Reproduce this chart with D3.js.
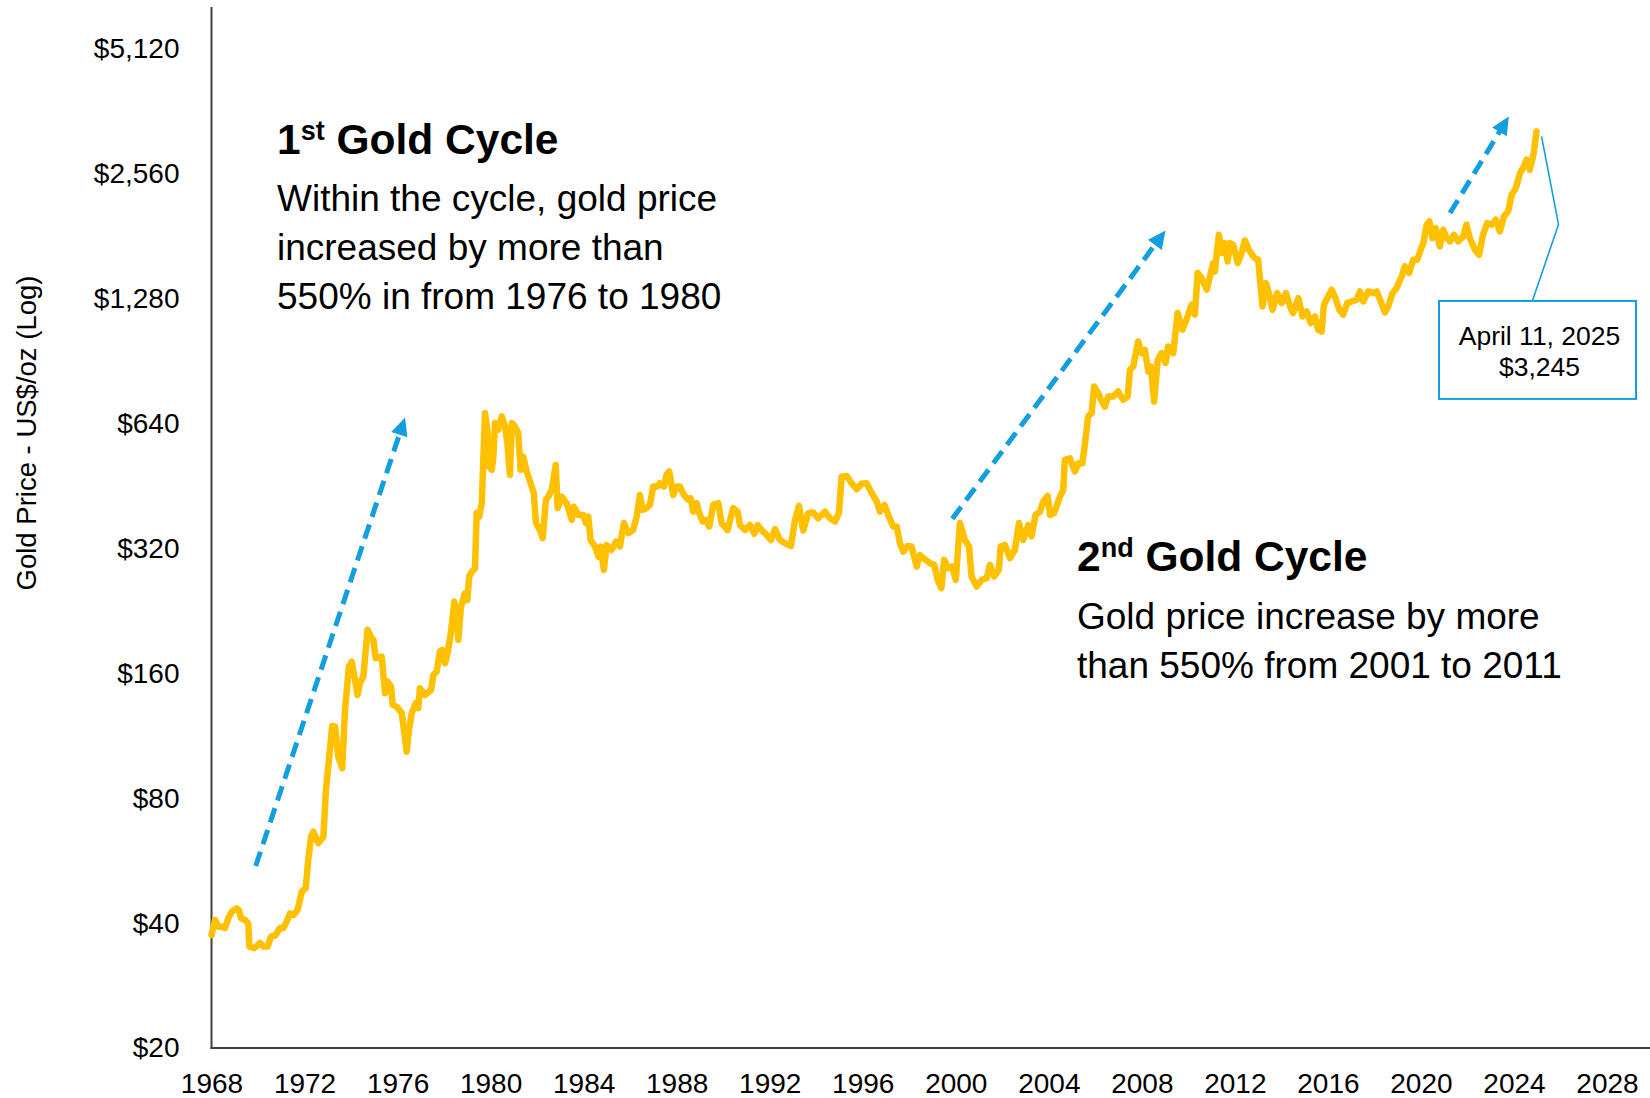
<!DOCTYPE html>
<html><head><meta charset="utf-8"><title>Gold Price Cycles</title>
<script src="https://cdn.jsdelivr.net/npm/d3@7"></script>
<style>
  html, body { margin: 0; padding: 0; background: #fff; }
  svg { display: block; font-family: 'Liberation Sans', Arial, sans-serif; }
</style>
</head>
<body>
<svg id="chart" width="1650" height="1098"></svg>
<script>
// gold price (decimal year, US$/oz)
const priceYears = [
  1968.00, 1968.15, 1968.29, 1968.44, 1968.58, 1968.72, 1968.87, 1969.08, 1969.18, 1969.27,
  1969.44, 1969.58, 1969.63, 1969.84, 1970.09, 1970.23, 1970.41, 1970.56, 1970.76, 1970.94,
  1971.09, 1971.23, 1971.37, 1971.52, 1971.70, 1971.88, 1972.05, 1972.16, 1972.28, 1972.38,
  1972.59, 1972.81, 1972.92, 1973.05, 1973.19, 1973.31, 1973.45, 1973.62, 1973.74, 1973.91,
  1974.03, 1974.17, 1974.28, 1974.38, 1974.53, 1974.71, 1974.89, 1974.96, 1975.06, 1975.32,
  1975.46, 1975.57, 1975.72, 1975.79, 1975.96, 1976.18, 1976.29, 1976.39, 1976.49, 1976.61,
  1976.78, 1976.89, 1976.96, 1977.18, 1977.44, 1977.54, 1977.68, 1977.82, 1977.92, 1978.04,
  1978.15, 1978.30, 1978.44, 1978.54, 1978.61, 1978.73, 1978.87, 1978.90, 1979.00, 1979.08,
  1979.19, 1979.33, 1979.40, 1979.51, 1979.62, 1979.76, 1979.86, 1979.94, 1980.05, 1980.12,
  1980.19, 1980.33, 1980.48, 1980.62, 1980.72, 1980.83, 1980.91, 1981.05, 1981.19, 1981.29,
  1981.40, 1981.55, 1981.72, 1981.86, 1981.95, 1982.12, 1982.24, 1982.38, 1982.48, 1982.63,
  1982.80, 1982.88, 1983.06, 1983.27, 1983.49, 1983.58, 1983.77, 1983.98, 1984.10, 1984.20,
  1984.30, 1984.49, 1984.63, 1984.73, 1984.87, 1984.99, 1985.20, 1985.39, 1985.56, 1985.73,
  1985.92, 1986.13, 1986.28, 1986.42, 1986.54, 1986.71, 1986.85, 1986.99, 1987.17, 1987.28,
  1987.45, 1987.57, 1987.68, 1987.85, 1987.99, 1988.14, 1988.31, 1988.50, 1988.60, 1988.71,
  1988.86, 1988.97, 1989.12, 1989.26, 1989.40, 1989.57, 1989.79, 1989.93, 1990.19, 1990.43,
  1990.62, 1990.72, 1990.94, 1991.15, 1991.34, 1991.48, 1991.65, 1991.87, 1992.05, 1992.23,
  1992.44, 1992.66, 1992.91, 1993.09, 1993.26, 1993.44, 1993.66, 1993.87, 1994.09, 1994.38,
  1994.59, 1994.81, 1994.98, 1995.09, 1995.31, 1995.52, 1995.74, 1995.95, 1996.17, 1996.35,
  1996.60, 1996.74, 1996.93, 1997.10, 1997.31, 1997.46, 1997.60, 1997.74, 1997.93, 1998.10,
  1998.32, 1998.46, 1998.67, 1998.89, 1999.07, 1999.22, 1999.38, 1999.50, 1999.68, 1999.85,
  2000.00, 2000.18, 2000.39, 2000.57, 2000.68, 2000.90, 2001.11, 2001.33, 2001.47, 2001.65,
  2001.85, 2001.93, 2002.11, 2002.33, 2002.54, 2002.72, 2002.90, 2003.12, 2003.26, 2003.43,
  2003.62, 2003.76, 2003.95, 2004.05, 2004.23, 2004.48, 2004.62, 2004.69, 2004.91, 2005.12,
  2005.27, 2005.44, 2005.55, 2005.69, 2005.84, 2005.95, 2006.12, 2006.24, 2006.41, 2006.55,
  2006.77, 2006.98, 2007.20, 2007.39, 2007.49, 2007.63, 2007.84, 2007.99, 2008.13, 2008.28,
  2008.39, 2008.53, 2008.68, 2008.85, 2009.02, 2009.13, 2009.35, 2009.54, 2009.74, 2009.92,
  2010.14, 2010.28, 2010.40, 2010.57, 2010.79, 2010.93, 2011.07, 2011.14, 2011.31, 2011.46,
  2011.57, 2011.69, 2011.79, 2011.93, 2012.12, 2012.29, 2012.43, 2012.60, 2012.79, 2012.86,
  2013.00, 2013.19, 2013.34, 2013.48, 2013.62, 2013.82, 2014.01, 2014.20, 2014.37, 2014.51,
  2014.73, 2014.91, 2015.09, 2015.26, 2015.44, 2015.58, 2015.73, 2015.83, 2016.01, 2016.16,
  2016.30, 2016.49, 2016.66, 2016.83, 2017.02, 2017.24, 2017.38, 2017.52, 2017.73, 2017.95,
  2018.10, 2018.27, 2018.45, 2018.59, 2018.78, 2018.95, 2019.17, 2019.31, 2019.49, 2019.67,
  2019.84, 2019.99, 2020.10, 2020.25, 2020.36, 2020.50, 2020.64, 2020.81, 2020.96, 2021.10,
  2021.25, 2021.42, 2021.60, 2021.82, 2021.96, 2022.10, 2022.32, 2022.50, 2022.67, 2022.85,
  2023.04, 2023.22, 2023.39, 2023.57, 2023.75, 2023.90, 2024.08, 2024.26, 2024.43, 2024.54,
  2024.68, 2024.85, 2024.97
];
const priceValues = [
  37.4, 40.7, 39.2, 39.2, 38.9, 41.1, 42.6, 43.4, 43.0, 41.1,
  40.7, 39.9, 35.1, 34.8, 35.8, 35.1, 35.1, 37.1, 37.4, 38.9,
  38.9, 40.3, 42.2, 41.8, 43.0, 47.6, 48.5, 56.8, 64.6, 66.4,
  62.3, 64.6, 83.7, 98.9, 119.4, 119.0, 100.7, 94.4, 130.5, 166,
  170.6, 154.2, 141.8, 151.4, 157, 203.5, 194.3, 192.5, 173.9, 175.4,
  143.2, 152.7, 148.6, 134.2, 132.9, 128.2, 114.7, 103.5, 116.8, 128.2,
  135.5, 131.8, 147.2, 141.8, 145.8, 158.5, 161.5, 180.4, 182, 169.1,
  178.8, 201.6, 238, 223.2, 192.5, 231.5, 247, 249, 240, 273.6,
  281, 286, 389, 381.6, 411, 677, 617, 503.6, 494.6, 532,
  641, 617, 665, 629, 573, 481, 641, 629, 606, 494.6,
  532, 490, 459, 434, 368, 354, 338.6, 419, 426, 442.6,
  508, 400, 426, 411, 374.6, 403, 385, 385, 368, 381.6,
  335, 323, 305.6, 323, 283.8, 326, 317, 332, 323, 368,
  348, 354, 381.6, 430, 396, 400, 407, 450.6, 450.6, 459,
  450.6, 481, 490, 430, 450.6, 450.6, 430, 419, 422.6, 392,
  411, 389, 371, 374.6, 361, 407, 411, 368, 354, 400,
  392, 364, 354, 364, 347, 364, 354, 344.6, 335, 355.8,
  335, 329, 324, 374.6, 405, 353, 389, 390, 378, 392,
  378, 371, 390, 476, 478, 459, 444, 457.6, 459, 438,
  415, 392, 407, 385, 361, 361, 329, 314, 324, 323,
  289, 308, 301, 294.6, 291.8, 268.6, 256.5, 300, 286.6, 289,
  268.6, 368, 335, 323, 273.6, 258.7, 268.6, 271, 291.8, 273.6,
  283.8, 323, 326, 303, 317, 368, 335, 364, 341.6, 385,
  392, 415, 428, 385, 389, 426, 442.6, 522.6, 527, 490,
  513, 513, 568, 665, 677, 785, 757, 729, 702, 743,
  743, 764, 729, 743, 861, 877, 1008, 945, 962, 853,
  877, 722, 910, 945, 894, 980, 945, 1180, 1076, 1137,
  1236, 1169, 1473, 1433, 1343, 1445, 1557, 1486, 1822, 1646,
  1740, 1571, 1740, 1723, 1557, 1646, 1766, 1676, 1616, 1601,
  1586, 1224, 1393, 1306, 1202, 1318, 1247, 1318, 1224, 1180,
  1282, 1158, 1190, 1116, 1158, 1076, 1065, 1236, 1293, 1343,
  1293, 1202, 1169, 1247, 1258, 1270, 1330, 1258, 1330, 1318,
  1330, 1258, 1184, 1224, 1318, 1355, 1445, 1528, 1473, 1586,
  1586, 1676, 1740, 1926, 1962, 1789, 1891, 1708, 1873, 1789,
  1756, 1822, 1756, 1805, 1926, 1789, 1676, 1630, 1822, 1944,
  1926, 1980, 1856, 2017, 2075, 2274, 2360, 2565, 2662, 2763,
  2614, 2867, 3232
];

const yTicks = [20, 40, 80, 160, 320, 640, 1280, 2560, 5120];
const xTicks = [1968, 1972, 1976, 1980, 1984, 1988, 1992, 1996, 2000, 2004, 2008, 2012, 2016, 2020, 2024, 2028];

// dashed trend arrows: start / end in (year, price)
const arrowFromYear  = [1969.90, 1999.85, 2021.25];
const arrowFromPrice = [54.9, 376.8, 2055];
const arrowToYear    = [1976.32, 2009.02, 2023.78];
const arrowToPrice   = [660.7, 1866, 3512];

const lastLabel = ["April 11, 2025", "$3,245"];

const gold = "#FFC000";
const blue = "#139EDD";

const svg = d3.select("#chart");

const x = d3.scaleLinear().domain([1968, 2028]).range([211.5, 1607]);
const y = d3.scaleLog().base(2).domain([20, 5120]).range([1048, 48.5]);

// axes (labels only, lines drawn below)
const xAxis = svg.append("g")
  .attr("transform", "translate(0,1048)")
  .call(d3.axisBottom(x).tickValues(xTicks).tickFormat(d3.format("d")).tickSize(0).tickPadding(25));
xAxis.select(".domain").remove();
xAxis.selectAll("text").attr("font-size", 28).attr("fill", "#000")
  .attr("font-family", "'Liberation Sans', Arial, sans-serif");

const yAxis = svg.append("g")
  .attr("transform", "translate(211.5,0)")
  .call(d3.axisLeft(y).tickValues(yTicks).tickFormat(d => "$" + d3.format(",")(d)).tickSize(0).tickPadding(32));
yAxis.select(".domain").remove();
yAxis.selectAll("text").attr("font-size", 28).attr("fill", "#000")
  .attr("font-family", "'Liberation Sans', Arial, sans-serif");

svg.append("line")
  .attr("x1", 211.5).attr("x2", 211.5).attr("y1", 7).attr("y2", 1049)
  .attr("stroke", "#404040").attr("stroke-width", 2);
svg.append("line")
  .attr("x1", 210.5).attr("x2", 1650).attr("y1", 1048).attr("y2", 1048)
  .attr("stroke", "#404040").attr("stroke-width", 2);

svg.append("text")
  .attr("transform", "translate(36,433) rotate(-90)")
  .attr("text-anchor", "middle")
  .attr("font-size", 27.5)
  .text("Gold Price - US$/oz (Log)");

// price line
const series = priceYears.map((t, i) => ({ t: t, v: priceValues[i] }));
const line = d3.line().x(d => x(d.t)).y(d => y(d.v));

svg.append("path")
  .datum(series)
  .attr("d", line)
  .attr("fill", "none")
  .attr("stroke", gold)
  .attr("stroke-width", 6.5)
  .attr("stroke-linejoin", "round")
  .attr("stroke-linecap", "round");

// arrows
arrowFromYear.forEach((t0, i) => {
  const x0 = x(t0), y0 = y(arrowFromPrice[i]);
  const x1 = x(arrowToYear[i]), y1 = y(arrowToPrice[i]);
  const len = Math.hypot(x1 - x0, y1 - y0);
  const ux = (x1 - x0) / len, uy = (y1 - y0) / len;
  const head = 18, half = 8.5;
  svg.append("line")
    .attr("x1", x0).attr("y1", y0)
    .attr("x2", x1 - ux * head * 0.9).attr("y2", y1 - uy * head * 0.9)
    .attr("stroke", blue).attr("stroke-width", 5)
    .attr("stroke-dasharray", "15 8");
  const bx = x1 - ux * head, by = y1 - uy * head;
  svg.append("path")
    .attr("d", `M${x1},${y1}L${bx - uy * half},${by + ux * half}L${bx + uy * half},${by - ux * half}Z`)
    .attr("fill", blue);
});

// callout for latest price
const last = series[series.length - 1];
const lx = x(last.t), ly = y(last.v);
svg.append("path")
  .attr("d", `M${lx + 5},${ly + 5}L${lx + 22},${ly + 93}L${lx - 4},${ly + 169}`)
  .attr("fill", "none").attr("stroke", blue).attr("stroke-width", 1.6);
svg.append("rect")
  .attr("x", lx - 97.5).attr("y", ly + 169.5)
  .attr("width", 197).attr("height", 98)
  .attr("fill", "#fff").attr("stroke", blue).attr("stroke-width", 2);
svg.append("text")
  .attr("x", lx + 3).attr("text-anchor", "middle").attr("font-size", 26.5)
  .selectAll("tspan").data(lastLabel).join("tspan")
  .attr("x", lx + 3).attr("y", (d, i) => ly + 213.5 + i * 31.5)
  .text(d => d);

// cycle notes
function note(xp, yp, num, sup, lines, gap) {
  const t = svg.append("text").attr("x", xp).attr("y", yp)
    .attr("font-size", 42.5).attr("font-weight", "bold");
  t.append("tspan").text(num);
  t.append("tspan").attr("font-size", 27).attr("dy", -14).text(sup);
  t.append("tspan").attr("dy", 14).text(" Gold Cycle");
  svg.append("text").attr("font-size", 37)
    .selectAll("tspan").data(lines).join("tspan")
    .attr("x", xp).attr("y", (d, i) => yp + gap + i * 49)
    .text(d => d);
}
note(277, 154, "1", "st",
  ["Within the cycle, gold price", "increased by more than", "550% in from 1976 to 1980"], 57);
note(1077, 571, "2", "nd",
  ["Gold price increase by more", "than 550% from 2001 to 2011"], 58);
</script>
</body></html>
